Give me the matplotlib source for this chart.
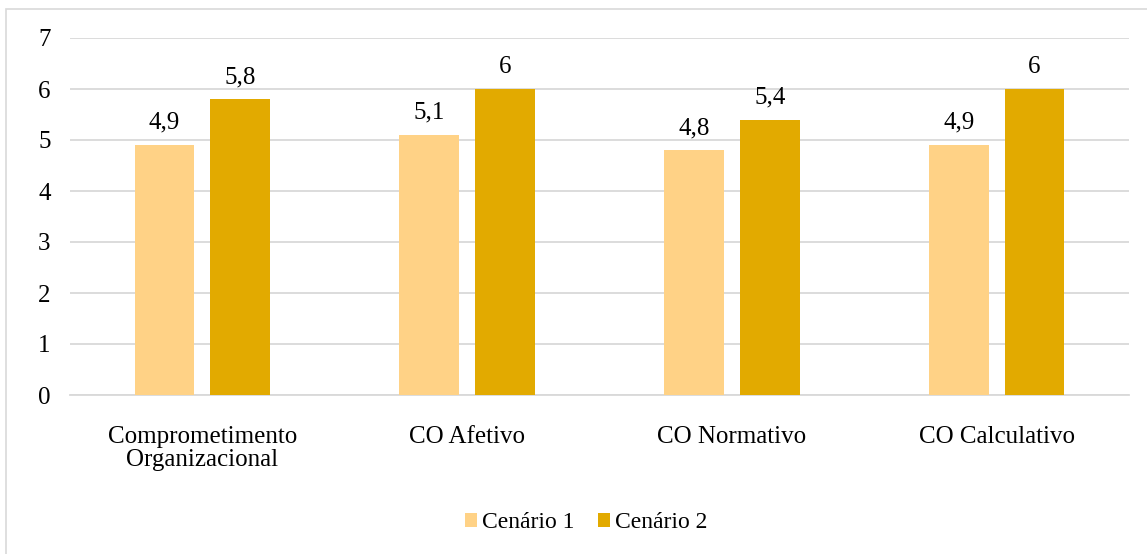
import matplotlib

matplotlib.use("Agg")
import matplotlib.pyplot as plt
import numpy as np
from matplotlib.patches import Rectangle

categories = ["Comprometimento\nOrganizacional", "CO Afetivo", "CO Normativo", "CO Calculativo"]
cenario_1 = [4.9, 5.1, 4.8, 4.9]
cenario_2 = [5.8, 6.0, 5.4, 6.0]
series_names = ["Cenário 1", "Cenário 2"]
y_ticks = [0, 1, 2, 3, 4, 5, 6, 7]

LIGHT = "#FFD286"
DARK = "#E2AA00"
GRID = "#D9D9D9"
FS = 18

plt.rcParams["font.family"] = ["Liberation Serif", "DejaVu Serif"]

fig = plt.figure(figsize=(11.47, 5.54), dpi=100)
fig.patches.append(
    Rectangle((6 / 1147, -0.1), 1.2, 1 - 9 / 554 + 0.1, transform=fig.transFigure,
              fill=False, edgecolor=GRID, linewidth=1.2)
)
ax = fig.add_axes([70 / 1147, 1 - 395 / 554, 1059 / 1147, 357 / 554])

x = np.arange(len(categories))
width = 0.226
offset = 0.143
bars1 = ax.bar(x - offset, cenario_1, width, color=LIGHT, label=series_names[0], zorder=3)
bars2 = ax.bar(x + offset, cenario_2, width, color=DARK, label=series_names[1], zorder=3)


def fmt(v):
    return f"{v:g}".replace(".", ",")


for bars, values in ((bars1, cenario_1), (bars2, cenario_2)):
    for bar, v in zip(bars, values):
        ax.annotate(fmt(v), (bar.get_x() + bar.get_width() / 2, v), xytext=(0, 16),
                    textcoords="offset points", ha="center", va="center", fontsize=FS)

ax.set_xlim(-0.5, len(categories) - 0.5)
ax.set_ylim(0, 7)
ax.set_yticks(y_ticks)
ax.set_yticklabels([str(t) for t in y_ticks], fontsize=FS)
ax.set_xticks(x)
ax.set_xticklabels(categories, fontsize=FS, linespacing=1.08)
ax.tick_params(axis="y", length=0, pad=14)
ax.tick_params(axis="x", length=0, pad=22)
ax.grid(axis="y", color=GRID, linewidth=1.3, zorder=0)
for side in ("top", "right", "left"):
    ax.spines[side].set_visible(False)
ax.spines["bottom"].set_color(GRID)
ax.spines["bottom"].set_linewidth(1.3)

fig.legend(loc="center", bbox_to_anchor=(586 / 1147, 1 - 523 / 554), ncol=2, frameon=False,
           fontsize=17, handlelength=0.5, handleheight=0.5, handletextpad=0.22, columnspacing=1.0)

fig.savefig("out.png", dpi=100)
